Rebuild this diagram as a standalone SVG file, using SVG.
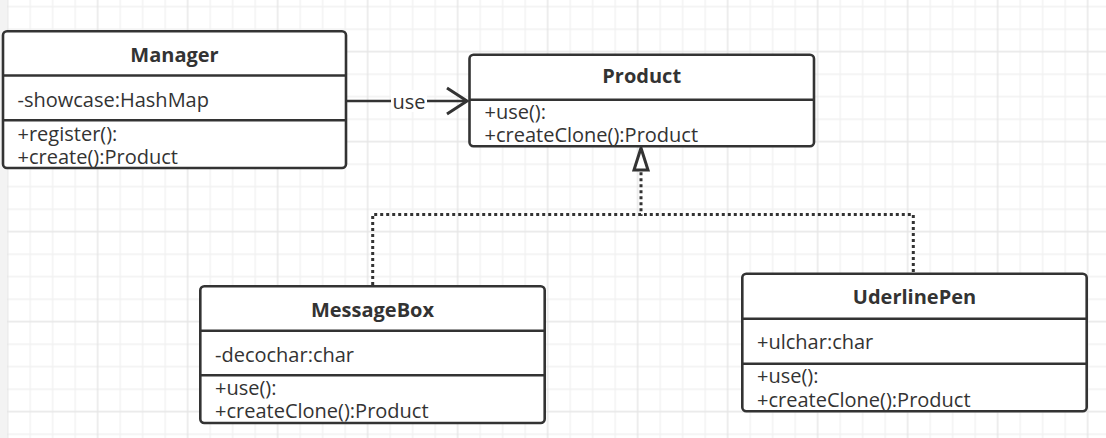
<svg xmlns="http://www.w3.org/2000/svg" width="1106" height="438" viewBox="0 0 1106 438">
  <defs>
    <pattern id="grid" patternUnits="userSpaceOnUse" x="-48.55" y="-4.55" width="90" height="90">
      <path d="M11.25,0 V90 M33.75,0 V90 M78.75,0 V90 M0,11.25 H90 M0,33.75 H90 M0,78.75 H90" stroke="#f1f1f1" stroke-width="1.3" fill="none"/>
      <path d="M56.25,0 V90 M0,56.25 H90" stroke="#e6e6e6" stroke-width="1.4" fill="none"/>
    </pattern>
    <marker id="open" markerUnits="userSpaceOnUse" markerWidth="30" markerHeight="34" viewBox="-24 -16 30 32" refX="0" refY="0" orient="auto" overflow="visible">
      <path d="M-20,-13 L0,0 L-20,13" fill="none" stroke="#333" stroke-width="3" stroke-linejoin="miter"/>
    </marker>
    <marker id="tri" markerUnits="userSpaceOnUse" markerWidth="30" markerHeight="30" viewBox="-4 -10 30 20" refX="0" refY="0" orient="auto" overflow="visible">
      <path d="M0,-7 L22,0 L0,7 Z" fill="#fff" stroke="#333" stroke-width="3" stroke-dasharray="none" stroke-linejoin="miter"/>
    </marker>
  </defs>
  <style>
    .box { fill: #fff; stroke: #333; stroke-width: 2.6; }
    .div { stroke: #333; stroke-width: 2.6; }
    .title { font-family: "Open Sans", "Noto Sans", "Liberation Sans", sans-serif; font-weight: bold; font-size: 20px; fill: #333; text-anchor: middle; }
    .mem { font-family: "Open Sans", "Noto Sans", "Liberation Sans", sans-serif; font-size: 20px; fill: #333; }
    .dot { fill: none; stroke: #333; stroke-width: 3; stroke-dasharray: 3 3; }
  </style>
  <rect width="1106" height="438" fill="#fff"/>
  <rect width="1106" height="438" fill="url(#grid)"/>
  <rect x="0" y="0" width="7" height="438" fill="#f3f3f3"/>

  <g id="connectors">
    <line x1="347" y1="101" x2="467" y2="101" stroke="#333" stroke-width="2.6" marker-end="url(#open)"/>
    <rect x="391" y="90" width="36" height="22" fill="#fff"/>
    <text class="mem" x="409" y="108.5" text-anchor="middle">use</text>
    <path class="dot" d="M372.7,285 V214.5 H641 V170" marker-end="url(#tri)"/>
    <path class="dot" d="M913.3,272 V214.5 H644"/>
  </g>

  <g id="manager">
    <rect class="box" x="3" y="31.3" width="343" height="136.7" rx="4"/>
    <line class="div" x1="3" y1="75.5" x2="346" y2="75.5"/>
    <line class="div" x1="3" y1="120.3" x2="346" y2="120.3"/>
    <text class="title" x="174.5" y="62">Manager</text>
    <text class="mem" x="17.5" y="107">-showcase:HashMap</text>
    <text class="mem" x="17.5" y="141">+register():</text>
    <text class="mem" x="17.5" y="164">+create():Product</text>
  </g>

  <g id="product">
    <rect class="box" x="469.5" y="54.7" width="344.5" height="91.6" rx="4"/>
    <line class="div" x1="469.5" y1="99.7" x2="814" y2="99.7"/>
    <text class="title" x="641.7" y="83.3">Product</text>
    <text class="mem" x="484.5" y="119">+use():</text>
    <text class="mem" x="484.5" y="142">+createClone():Product</text>
  </g>

  <g id="messagebox">
    <rect class="box" x="200.3" y="286.3" width="344.4" height="136.7" rx="4"/>
    <line class="div" x1="200.3" y1="330.7" x2="544.7" y2="330.7"/>
    <line class="div" x1="200.3" y1="375.3" x2="544.7" y2="375.3"/>
    <text class="title" x="372.5" y="316.7">MessageBox</text>
    <text class="mem" x="215" y="361.7">-decochar:char</text>
    <text class="mem" x="215" y="395">+use():</text>
    <text class="mem" x="215" y="418.3">+createClone():Product</text>
  </g>

  <g id="uderlinepen">
    <rect class="box" x="742.3" y="273.7" width="344.4" height="137.6" rx="4"/>
    <line class="div" x1="742.3" y1="318.7" x2="1086.7" y2="318.7"/>
    <line class="div" x1="742.3" y1="363.7" x2="1086.7" y2="363.7"/>
    <text class="title" x="914.5" y="304">UderlinePen</text>
    <text class="mem" x="757" y="349">+ulchar:char</text>
    <text class="mem" x="757" y="383.3">+use():</text>
    <text class="mem" x="757" y="406.7">+createClone():Product</text>
  </g>
</svg>
